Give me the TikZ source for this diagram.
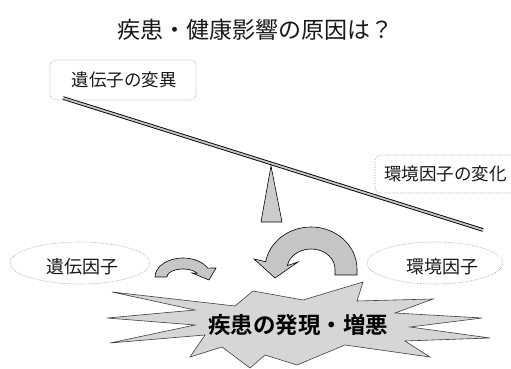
\documentclass[tikz,border=0pt]{standalone}
\usepackage{fontspec}
\setmainfont{Noto Sans CJK JP}
\newfontfamily\jpbold{Noto Sans CJK JP}[BoldFont={* Bold}]
\begin{document}
\begin{tikzpicture}[x=1pt,y=1pt,
  txt/.style={inner sep=0pt, text=black!90},
  dotbox/.style={draw=gray!75, densely dotted, line width=0.6pt, rounded corners=6pt},
  dotell/.style={draw=gray!75, densely dotted, line width=0.6pt},
  arrowshape/.style={fill=gray!45, draw=black, line width=0.6pt},
  starshape/.style={fill=gray!32, draw=black!75, line width=0.6pt}]
\useasboundingbox (0,0) rectangle (511,369);
\clip (0,0) rectangle (511,369);

% title
\node[txt, font=\fontsize{23}{26}\selectfont] (title) at (255,339) {疾患・健康影響の原因は？};

% beam and fulcrum
\draw[line width=0.9pt, double=gray!45, double distance=1.8pt] (63,271) -- (483,139);
\filldraw[fill=gray!40, draw=black, line width=0.6pt] (271,203) -- (282,147) -- (261,147) -- cycle;

% dotted boxes
\draw[dotbox] (50,269) rectangle (196,309);
\node[txt, font=\fontsize{17.5}{20}\selectfont] (box1) at (124,289) {遺伝子の変異};
\draw[dotbox] (375,176) rectangle (540,214);
\node[txt, anchor=west, font=\fontsize{17.5}{20}\selectfont] (box2) at (384,195) {環境因子の変化};

% ellipses
\draw[dotell] (80,106) ellipse[x radius=70, y radius=21];
\node[txt, font=\fontsize{18}{20}\selectfont] (e1) at (82,102) {遺伝因子};
\draw[dotell] (435,106) ellipse[x radius=68, y radius=21];
\node[txt, font=\fontsize{18}{20}\selectfont] (e2) at (442,102) {環境因子};

% star
\filldraw[starshape] (107,51) -- (195,59) -- (112,77) -- (235,63) -- (253,78) -- (303,69)
  -- (363,87) -- (357,68) -- (433,70) -- (395,56) -- (482,51) -- (410,42) -- (490,31)
  -- (405,28) -- (430,12) -- (345,24) -- (297,4) -- (265,14) -- (250,1) -- (222,22)
  -- (190,12) -- (205,34) -- (110,26) -- (195,44) -- cycle;
\node[txt, text=black, font=\jpbold\bfseries\fontsize{22.5}{26}\selectfont] (star) at (298,44) {疾患の発現・増悪};

% small curved arrow
\filldraw[arrowshape] (155,92) arc[start angle=180, end angle=28, x radius=28, y radius=19]
  -- (216,101) -- (209,89) -- (192,96)
  -- ({183+16*cos(28)},{92+8*sin(28)}) arc[start angle=28, end angle=180, x radius=16, y radius=8] -- cycle;

% big curved arrow
\filldraw[arrowshape] (357,94) -- (357,100) arc[start angle=0, end angle=170, x radius=46, y radius=42]
  -- (254,110) -- (275,91) -- (298,107)
  -- ({311+24*cos(170)},{100+20*sin(170)}) arc[start angle=170, end angle=0, x radius=24, y radius=20]
  -- (335,94) -- cycle;
\end{tikzpicture}
\end{document}
